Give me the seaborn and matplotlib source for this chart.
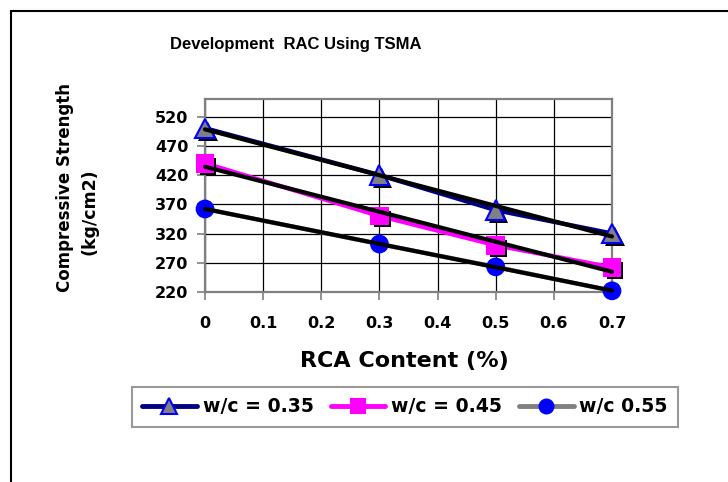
import numpy as np
import matplotlib
matplotlib.use("Agg")
import matplotlib.pyplot as plt
import matplotlib.patheffects as pe
from matplotlib.lines import Line2D
import seaborn as sns

# RCA replacement level and compressive strength (kg/cm2) for each w/c ratio
rca_content = [0, 0.3, 0.5, 0.7]
strength_wc035 = [500, 420, 360, 320]
strength_wc045 = [440, 350, 300, 262]
strength_wc055 = [362, 302, 263, 222]
series_labels = ["w/c = 0.35", "w/c = 0.45", "w/c 0.55"]

x_ticks = [0, 0.1, 0.2, 0.3, 0.4, 0.5, 0.6, 0.7]
x_ticklabels = ["0", "0.1", "0.2", "0.3", "0.4", "0.5", "0.6", "0.7"]
y_ticks = [220, 270, 320, 370, 420, 470, 520]

sns.set_theme(style="white")
plt.rcParams["font.family"] = ["DejaVu Sans"]
plt.rcParams["font.weight"] = "bold"
plt.rcParams["text.color"] = "black"
plt.rcParams["axes.labelcolor"] = "black"
plt.rcParams["xtick.color"] = "black"
plt.rcParams["ytick.color"] = "black"

W, H = 728, 482
fig = plt.figure(figsize=(W / 100, H / 100), dpi=100)
fig.patch.set_facecolor("white")


def fx(px):
    return px / W


def fy(py):
    return 1 - py / H


ax = fig.add_axes([fx(205), fy(292), fx(612) - fx(205), fy(99) - fy(292)])
ax.set_facecolor("white")

styles = [
    dict(line="#000080", marker="^", mfc="#808080", mec="#0000FF", ms=14, shadow=True),
    dict(line="#FF00FF", marker="s", mfc="#FF00FF", mec="#FF00FF", ms=12, shadow=True),
    dict(line="#808080", marker="o", mfc="#0000FF", mec="#0000FF", ms=12, shadow=False),
]
series = [strength_wc035, strength_wc045, strength_wc055]

handles = []
for vals, st, lab in zip(series, styles, series_labels):
    # measured series
    sns.lineplot(x=rca_content, y=vals, ax=ax, color=st["line"], lw=3.2,
                 zorder=3, legend=False)
    effects = [pe.Normal()]
    if st["shadow"]:
        effects = [pe.SimplePatchShadow(offset=(2.2, -2.2), shadow_rgbFace="black",
                                        alpha=1.0), pe.Normal()]
    sns.lineplot(x=rca_content, y=vals, ax=ax, linestyle="none",
                 marker=st["marker"], markersize=st["ms"],
                 markerfacecolor=st["mfc"], markeredgecolor=st["mec"],
                 markeredgewidth=1.5, zorder=4, legend=False, clip_on=False,
                 path_effects=effects)
    # linear trend line
    coef = np.polyfit(rca_content, vals, 1)
    xs = np.array([rca_content[0], rca_content[-1]])
    sns.lineplot(x=xs, y=np.polyval(coef, xs), ax=ax, color="black", lw=3.0,
                 zorder=5, legend=False, clip_on=False)
    handles.append(Line2D([], [], color=st["line"], lw=3.5, marker=st["marker"],
                          markersize=st["ms"] - 2, markerfacecolor=st["mfc"],
                          markeredgecolor=st["mec"], markeredgewidth=1.5,
                          label=lab))

ax.set_xlim(0, 0.7)
ax.set_ylim(220, 550)
ax.set_xticks(x_ticks)
ax.set_xticklabels(x_ticklabels)
ax.set_yticks(y_ticks)
ax.set_yticklabels([str(v) for v in y_ticks])
ax.grid(True, color="black", lw=0.9)
ax.set_axisbelow(True)
for sp in ax.spines.values():
    sp.set_color("#808080")
    sp.set_linewidth(1.6)
ax.tick_params(axis="both", direction="out", length=6, width=1.2, color="#808080",
               labelsize=11.5, labelcolor="black")
ax.tick_params(axis="x", pad=11.5, bottom=True)
ax.tick_params(axis="y", pad=6, left=True)
for t in ax.get_xticklabels() + ax.get_yticklabels():
    t.set_fontweight("bold")
ax.set_xlabel("")
ax.set_ylabel("")

# titles
fig.text(fx(296), fy(45), "Development  RAC Using TSMA", ha="center", va="center",
         fontsize=12, fontweight="bold", color="black",
         family=["Liberation Sans", "DejaVu Sans"])
fig.text(fx(404), fy(361), "RCA Content (%)", ha="center", va="center",
         fontsize=16, fontweight="bold", color="black")
fig.text(fx(65), fy(187), "Compressive Strength", ha="center", va="center",
         rotation=90, fontsize=12, fontweight="bold", color="black")
fig.text(fx(90), fy(212), "(kg/cm2)", ha="center", va="center",
         rotation=90, fontsize=12.5, fontweight="bold", color="black")

leg = fig.legend(handles=handles, loc="center", ncol=3,
                 bbox_to_anchor=(fx(405), fy(407)), frameon=True, fancybox=False,
                 prop=dict(size=13.6, weight="bold"), handlelength=2.9,
                 handletextpad=0.3, columnspacing=0.9, borderpad=0.55,
                 borderaxespad=0)
leg.get_frame().set_edgecolor("#808080")
leg.get_frame().set_linewidth(1.5)
for t in leg.get_texts():
    t.set_color("black")

# outer chart frame (left and top edges)
fig.add_artist(Line2D([fx(11), fx(11)], [0, fy(11)], color="black", lw=1.5,
                      transform=fig.transFigure))
fig.add_artist(Line2D([fx(11), 1], [fy(11), fy(11)], color="black", lw=1.5,
                      transform=fig.transFigure))

fig.savefig("out.png", dpi=100, facecolor="white")
